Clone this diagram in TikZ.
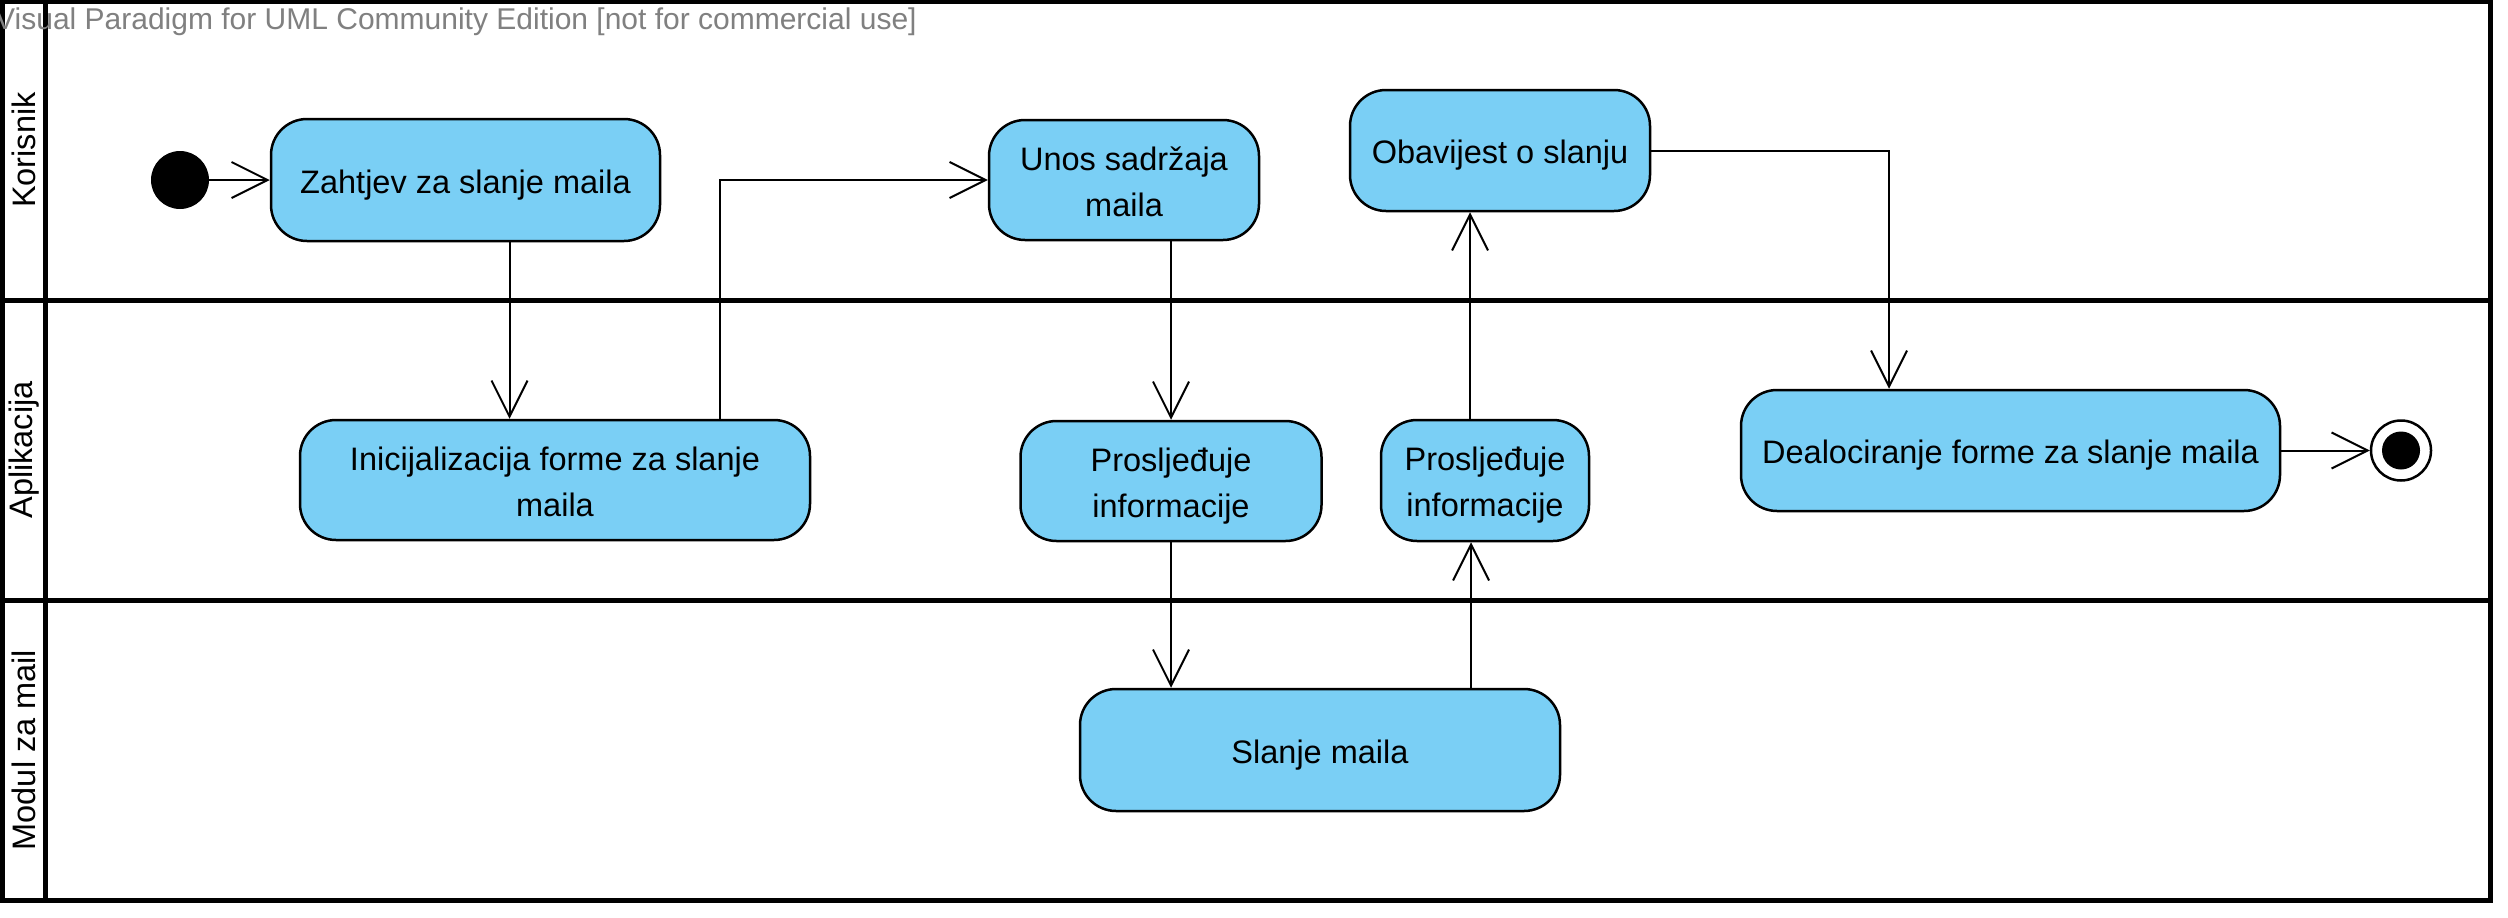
\documentclass[tikz,border=0pt]{standalone}
\usepackage{fontspec}
\setmainfont{Liberation Sans}
\usetikzlibrary{arrows.meta}
\definecolor{actblue}{RGB}{122,207,245}
\definecolor{wmgray}{RGB}{128,128,128}
\newcommand\nodefnt{\fontsize{32.5}{46}\selectfont}
\newcommand\wmfnt{\fontsize{30}{36}\selectfont}
\tikzset{
  act/.style={draw, line width=2.5pt, fill=actblue, rounded corners=36pt, inner sep=0pt, align=center, font=\nodefnt, text depth=0pt, text height=26pt},
  acttwo/.style={act, text height=72pt},
  flow/.style={line width=2pt, -{Straight Barb[length=36pt,width=36pt]}},
  lane/.style={line width=5pt},
  lanelabel/.style={rotate=90, font=\nodefnt, inner sep=0pt},
}
\begin{document}
\begin{tikzpicture}[x=1pt,y=-1pt]
\useasboundingbox (0,0) rectangle (2508,918);
\fill[white] (0,0) rectangle (2508,918);
% swimlanes
\draw[lane] (2,1) rectangle (2490,900);
\draw[lane] (0,300) -- (2490,300);
\draw[lane] (0,600) -- (2490,600);
\draw[lane] (45.5,0) -- (45.5,900);
\node[lanelabel] (lk) at (24,150) {Korisnik};
\node[lanelabel] (la) at (24,450) {Aplikacija};
\node[lanelabel] (lm) at (24,750) {Modul za mail};
% watermark
\node[anchor=base west, inner sep=0pt, text=wmgray, font=\wmfnt] (wm) at (-5,29) {Visual Paradigm for UML Community Edition [not for commercial use]};
% nodes
\node[circle, fill=black, minimum size=58, inner sep=0pt] (init) at (180,180) {};
\node[act, minimum width=389, minimum height=122] (zah) at (465.5,180) {Zahtjev za slanje maila};
\node[acttwo, minimum width=510, minimum height=120] (ini) at (555,480) {Inicijalizacija forme za slanje\\maila};
\node[acttwo, minimum width=270, minimum height=120] (unos) at (1124,180) {Unos sadržaja\\maila};
\node[acttwo, minimum width=301, minimum height=120] (pr1) at (1171,481) {Prosljeđuje\\informacije};
\node[act, minimum width=480, minimum height=122] (sl) at (1320,750) {Slanje maila};
\node[acttwo, minimum width=208, minimum height=121] (pr2) at (1485,480.5) {Prosljeđuje\\informacije};
\node[act, minimum width=300, minimum height=121] (ob) at (1500,150.5) {Obavijest o slanju};
\node[act, minimum width=539, minimum height=121] (deal) at (2010.5,450.5) {Dealociranje forme za slanje maila};
\node[circle, draw, fill=white, line width=2.5pt, minimum size=60, inner sep=0pt,
      path picture={\fill[black] (path picture bounding box.center) circle (19pt);}] (fin) at (2401,450.5) {};
% connectors
\draw[flow] (init) -- (zah);
\draw[flow] ([xshift=44]zah.south) -- ([xshift=44]zah.south |- ini.north);
\draw[flow] ([xshift=165]ini.north) |- (unos.west);
\draw[flow] ([xshift=47]unos.south) -- ([xshift=47]unos.south |- pr1.north);
\draw[flow] (pr1.south) -- (pr1.south |- sl.north);
\draw[flow] ([xshift=151]sl.north) -- ([xshift=151]sl.north |- pr2.south);
\draw[flow] ([xshift=-15]pr2.north) -- ([xshift=-15]pr2.north |- ob.south);
\draw[flow] (ob.east) -| ([xshift=-121.5]deal.north);
\draw[flow] (deal.east) -- (fin);
\end{tikzpicture}
\end{document}
